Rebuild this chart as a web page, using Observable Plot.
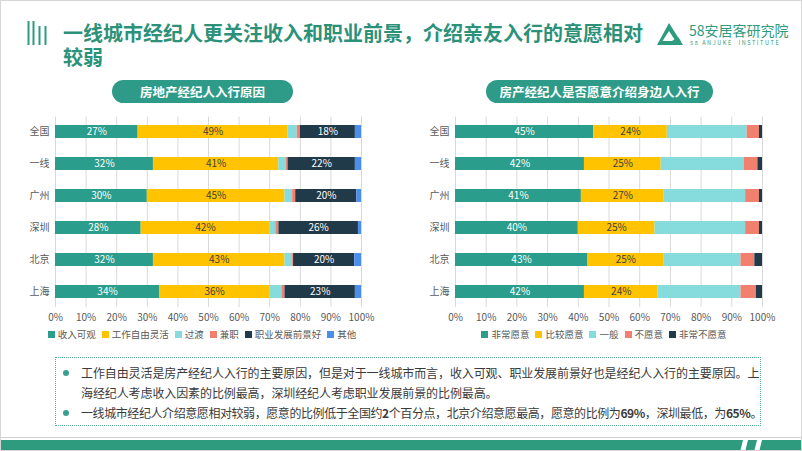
<!DOCTYPE html>
<html>
<head>
<meta charset="utf-8">
<script src="https://cdn.jsdelivr.net/npm/d3@7"></script>
<script src="https://cdn.jsdelivr.net/npm/@observablehq/plot@0.6"></script>
<style>
  body { margin: 0; background: #fff; }
  #page { position: relative; width: 802px; height: 451px; overflow: hidden; background: #fff;
    font-family: "Noto Sans CJK SC", "Noto Sans", sans-serif; box-sizing: border-box; border: 1px solid #d6d6d6; }
  .abs { position: absolute; }
  .title { left: 62px; color: #2b9178; font-family: "Liberation Sans", "Noto Sans CJK SC", sans-serif;
    font-size: 20px; font-weight: 700; line-height: 22px; height: 22px; white-space: nowrap; }
  .pill { height: 23px; border-radius: 12px; background: #2e9b88; color: #fff; font-size: 12.5px; font-weight: 700;
    display: flex; align-items: center; justify-content: center; }
  .legend { display: flex; align-items: center; justify-content: center; font-size: 9.5px; color: #595959; white-space: nowrap; }
  .legend span.sw { display: inline-block; width: 7px; height: 7px; margin-right: 3px; }
  .legend span.it { display: inline-flex; align-items: center; margin: 0 3px; }
  .box { left: 54px; top: 356px; width: 706px; height: 69px; border: 1px dotted #5aa898; box-sizing: border-box; }
  .para { position: absolute; left: 25px; font-size: 12px; color: #3a3a3a; white-space: nowrap; line-height: 19.5px; }
  .dot { position: absolute; left: 7px; width: 6px; height: 6px; border-radius: 3px; background: #3aa08c; }
</style>
</head>
<body>
<div id="page">
  <svg class="abs" style="left:24px;top:18px" width="26" height="28">
    <g stroke="#2e9b7e" stroke-width="2">
      <line x1="3.5" y1="2" x2="3.5" y2="26"/>
      <line x1="8.5" y1="2" x2="8.5" y2="26"/>
      <line x1="14.5" y1="7" x2="14.5" y2="26"/>
      <line x1="20.5" y1="7" x2="20.5" y2="26"/>
    </g>
  </svg>
  <div class="abs title" style="top:22px;">一线城市经纪人更关注收入和职业前景，介绍亲友入行的意愿相对</div>
  <div class="abs title" style="top:46px;">较弱</div>

  <svg class="abs" style="left:656px;top:22px" width="30" height="24">
    <path d="M12 0 L26 22 L0 22 Z" fill="#2e9b7e"/>
    <path d="M12 8 L18.5 18 L5.5 18 Z" fill="#fff"/>
    <path d="M9 22 L21 14 L24 18.5 L16 22 Z" fill="#2e9b7e"/>
  </svg>
  <div class="abs" style="left:688px;top:20px;font-size:14px;color:#2e9b7e;white-space:nowrap;line-height:18px;">58安居客研究院</div>
  <div class="abs" style="left:689px;top:38px;font-size:5.5px;color:#2e9b7e;white-space:nowrap;letter-spacing:1.6px;">58 ANJUKE &nbsp;INSTITUTE</div>

  <div class="abs pill" style="left:111px;top:79px;width:181px;">房地产经纪人入行原因</div>
  <div class="abs pill" style="left:485px;top:79px;width:227px;">房产经纪人是否愿意介绍身边人入行</div>

  <div id="left" class="abs" style="left:0;top:110px;"></div>
  <div id="right" class="abs" style="left:400px;top:110px;"></div>

  <div id="legL" class="abs legend" style="left:60px;top:326px;width:282px;height:14px;"></div>
  <div id="legR" class="abs legend" style="left:470px;top:326px;width:266px;height:14px;"></div>

  <div class="abs box">
    <div class="dot" style="top:12px;"></div>
    <div class="para" style="top:5px;letter-spacing:-0.1px;">工作自由灵活是房产经纪人入行的主要原因，但是对于一线城市而言，收入可观、职业发展前景好也是经纪人入行的主要原因。上<br>海经纪人考虑收入因素的比例最高，深圳经纪人考虑职业发展前景的比例最高。</div>
    <div class="dot" style="top:52px;"></div>
    <div class="para" style="top:45px;letter-spacing:-0.42px;">一线城市经纪人介绍意愿相对较弱，愿意的比例低于全国约<b>2</b>个百分点，北京介绍意愿最高，愿意的比例为<b>69%</b>，深圳最低，为<b>65%</b>。</div>
  </div>

  <div class="abs" style="left:0;top:436px;width:802px;height:1px;background:#d0d0d0;"></div>
  <div class="abs" style="left:0;top:439px;width:802px;height:12px;background:#2e9b7e;"></div>
  <svg class="abs" style="left:736px;top:439px" width="30" height="12">
    <path d="M6 0 L11 0 L8 12 L3 12 Z" fill="#fff"/>
    <path d="M20 0 L25 0 L22 12 L17 12 Z" fill="#fff"/>
  </svg>
</div>

<script>
const cities = ["全国", "一线", "广州", "深圳", "北京", "上海"];

// Left chart: 房地产经纪人入行原因 (values per category, in city order)
const reasonCats = ["收入可观", "工作自由灵活", "过渡", "兼职", "职业发展前景好", "其他"];
const reasonIncome   = [27, 32, 30, 28, 32, 34];
const reasonFlexible = [49, 41, 45, 42, 43, 36];
const reasonTransit  = [3, 2.5, 2.5, 2, 2.5, 4];
const reasonPartTime = [1, 0.5, 1, 1, 0.3, 1];
const reasonCareer   = [18, 22, 20, 26, 20, 23];
const reasonOther    = [2, 2, 1.5, 1, 2.2, 2];

// Right chart: 房产经纪人是否愿意介绍身边人入行
const willCats = ["非常愿意", "比较愿意", "一般", "不愿意", "非常不愿意"];
const willVery     = [45, 42, 41, 40, 43, 42];
const willFairly   = [24, 25, 27, 25, 25, 24];
const willNeutral  = [26, 27, 26.5, 29.5, 25, 27];
const willNot      = [4, 4.5, 4.5, 4.5, 4.5, 5];
const willVeryNot  = [1, 1.5, 1, 1, 2.5, 2];

const xTicks = [0, 10, 20, 30, 40, 50, 60, 70, 80, 90, 100];

function buildRows(cats, series) {
  const rows = [];
  cities.forEach((c, i) => cats.forEach((k, j) => rows.push({city: c, cat: k, value: series[j][i]})));
  return rows;
}

function chart(cats, series, colors, whiteCats, darkCats, marginRight) {
  const rows = buildRows(cats, series);
  const lbl = set => d => (set.includes(d.cat) && d.value >= 10) ? Math.round(d.value) + "%" : "";
  return Plot.plot({
    width: 380, height: 220,
    marginTop: 5.6, marginBottom: 24, marginLeft: 54, marginRight: marginRight,
    style: {fontFamily: "'Noto Sans CJK SC', 'Noto Sans', sans-serif", fontSize: "10px", color: "#595959", background: "transparent", overflow: "visible"},
    x: {domain: [0, 100], ticks: xTicks, tickFormat: d => d + "%", tickSize: 0, tickPadding: 6, label: null},
    y: {domain: cities, paddingInner: 0.6, paddingOuter: 0.25, align: 0.5, tickSize: 0, tickPadding: 6, label: null},
    color: {domain: cats, range: colors},
    marks: [
      Plot.ruleX(xTicks, {stroke: "#d9d9d9", strokeWidth: 1}),
      Plot.barX(rows, Plot.stackX({x: "value", y: "city", fill: "cat", order: cats})),
      Plot.text(rows, Plot.stackX({x: "value", y: "city", z: "cat", order: cats, text: lbl(whiteCats), fill: "white", fontSize: 10})),
      Plot.text(rows, Plot.stackX({x: "value", y: "city", z: "cat", order: cats, text: lbl(darkCats), fill: "#404040", fontSize: 10}))
    ]
  });
}

const reasonColors = ["#2a9d8c", "#ffc300", "#86dcdc", "#f2806f", "#213a4a", "#4a8fee"];
const willColors = ["#2a9d8c", "#ffc300", "#86dcdc", "#f2806f", "#213a4a"];

document.getElementById("left").appendChild(
  chart(reasonCats, [reasonIncome, reasonFlexible, reasonTransit, reasonPartTime, reasonCareer, reasonOther],
        reasonColors, ["收入可观", "职业发展前景好"], ["工作自由灵活"], 20));
document.getElementById("right").appendChild(
  chart(willCats, [willVery, willFairly, willNeutral, willNot, willVeryNot],
        willColors, ["非常愿意"], ["比较愿意"], 19));

function legend(id, cats, colors) {
  const el = document.getElementById(id);
  cats.forEach((c, i) => {
    const it = document.createElement("span");
    it.className = "it";
    it.innerHTML = `<span class="sw" style="background:${colors[i]}"></span>${c}`;
    el.appendChild(it);
  });
}
legend("legL", reasonCats, reasonColors);
legend("legR", willCats, willColors);
</script>
</body>
</html>
